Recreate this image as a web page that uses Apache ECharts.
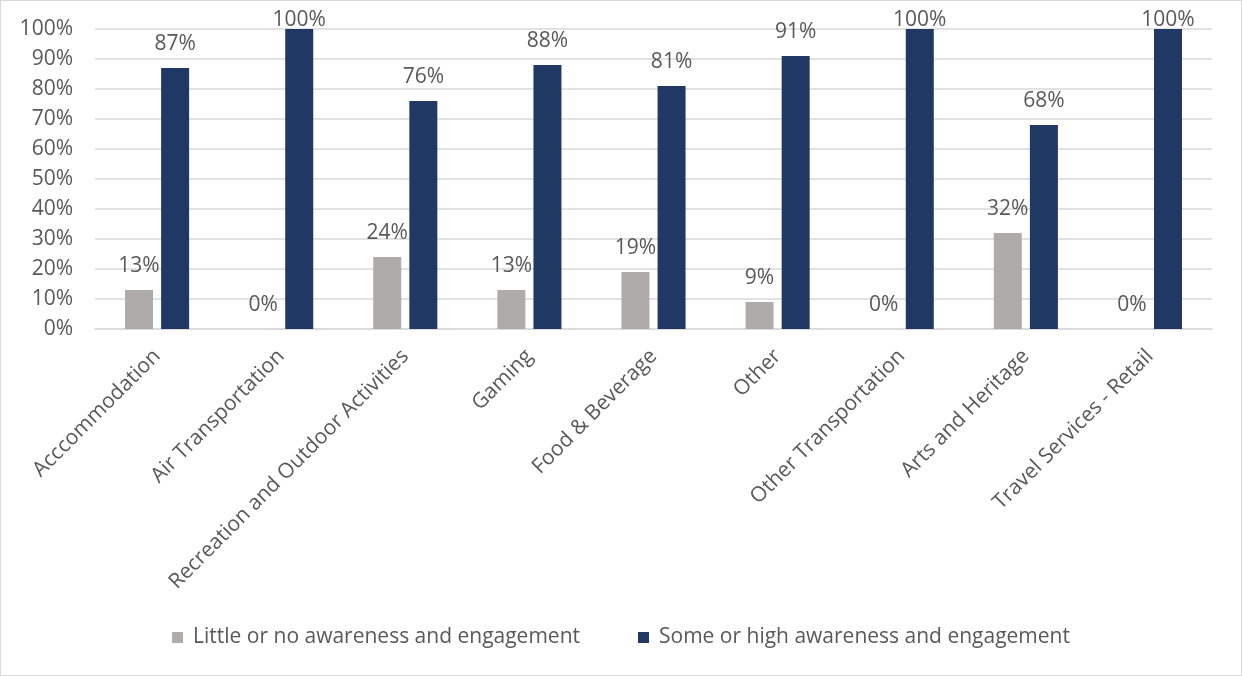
<!DOCTYPE html>
<html>
<head>
<meta charset="utf-8">
<script src="https://cdn.jsdelivr.net/npm/echarts@6/dist/echarts.min.js"></script>
<style>
  html, body { margin: 0; padding: 0; background: #ffffff; }
  #frame { width: 1240px; height: 674px; border: 1px solid #d9d9d9; position: relative; }
  #chart { width: 1240px; height: 674px; }
</style>
</head>
<body>
<div id="frame"><div id="chart"></div></div>
<script>
// Sectors surveyed
const categories = [
  'Acccommodation',
  'Air Transportation',
  'Recreation and Outdoor Activities',
  'Gaming',
  'Food & Beverage',
  'Other',
  'Other Transportation',
  'Arts and Heritage',
  'Travel Services - Retail'
];

// Share of respondents (%) in each awareness group
const littleOrNone = [13, 0, 24, 13, 19, 9, 0, 32, 0];
const someOrHigh = [87, 100, 76, 88, 81, 91, 100, 68, 100];

const seriesNames = [
  'Little or no awareness and engagement',
  'Some or high awareness and engagement'
];

// Value axis ticks
const yTicks = { min: 0, max: 100, step: 10 };

const textColor = '#595959';
const fontFamily = '"Open Sans", sans-serif';
const fontSize = 21;

const labelStyle = {
  show: true,
  position: 'top',
  distance: 13,
  color: textColor,
  fontFamily: fontFamily,
  fontSize: fontSize,
  formatter: p => p.value + '%'
};

// Labels of bars that reach the top of the axis are pulled down so they stay inside the chart
function withLabels(values) {
  return values.map(v => v >= yTicks.max
    ? { value: v, label: { distance: -2 } }
    : v);
}

const chart = echarts.init(document.getElementById('chart'), null, { renderer: 'canvas' });

chart.setOption({
  animation: false,
  textStyle: { fontFamily: fontFamily },
  grid: { left: 94, right: 29, top: 28, bottom: 346 },
  legend: {
    bottom: 22,
    left: 'center',
    icon: 'rect',
    itemWidth: 11,
    itemHeight: 11,
    itemGap: 58,
    textStyle: {
      color: textColor,
      fontSize: fontSize,
      fontFamily: fontFamily,
      padding: [0, 0, 0, 5]
    },
    data: seriesNames
  },
  xAxis: {
    type: 'category',
    data: categories,
    axisLine: { lineStyle: { color: '#d9d9d9', width: 1.5 } },
    axisTick: { show: false },
    axisLabel: {
      interval: 0,
      rotate: 45,
      margin: 24,
      color: textColor,
      fontSize: fontSize,
      fontFamily: fontFamily
    }
  },
  yAxis: {
    type: 'value',
    min: yTicks.min,
    max: yTicks.max,
    interval: yTicks.step,
    axisLine: { show: false },
    axisTick: { show: false },
    splitLine: { lineStyle: { color: '#d9d9d9', width: 1.5 } },
    axisLabel: {
      formatter: '{value}%',
      margin: 22,
      color: textColor,
      fontSize: fontSize,
      fontFamily: fontFamily
    }
  },
  series: [
    {
      name: seriesNames[0],
      type: 'bar',
      data: withLabels(littleOrNone),
      barWidth: 28,
      barGap: '29%',
      itemStyle: { color: '#AEABAB' },
      label: labelStyle
    },
    {
      name: seriesNames[1],
      type: 'bar',
      data: withLabels(someOrHigh),
      barWidth: 28,
      itemStyle: { color: '#1F3864' },
      label: labelStyle
    }
  ]
});
</script>
</body>
</html>
